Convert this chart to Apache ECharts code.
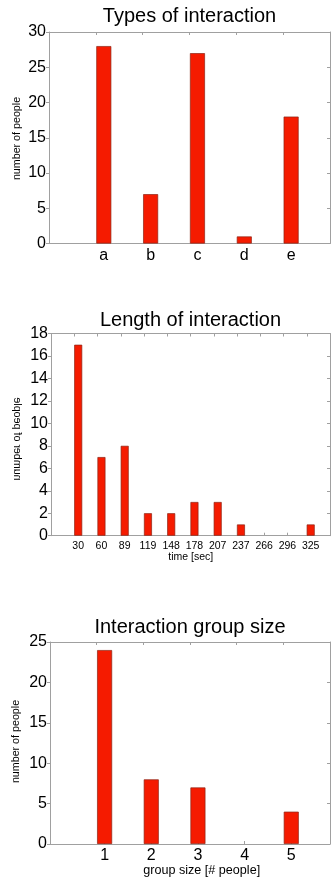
<!DOCTYPE html>
<html>
<head>
<meta charset="utf-8">
<script src="https://cdn.jsdelivr.net/npm/echarts@6/dist/echarts.min.js"></script>
<style>
html,body{margin:0;padding:0;background:#fff;}
#c{width:331px;height:880px;}
</style>
</head>
<body>
<div id="c"></div>
<script>
// ---- data ----
const typeCategories = ['a', 'b', 'c', 'd', 'e'];
const typeValues = [28, 7, 27, 1, 18];
const typeYTicks = { min: 0, max: 30, interval: 5 };

const lengthCategories = ['30', '60', '89', '119', '148', '178', '207', '237', '266', '296', '325'];
const lengthValues = [17, 7, 8, 2, 2, 3, 3, 1, 0, 0, 1];
const lengthYTicks = { min: 0, max: 18, interval: 2 };

const groupCategories = ['1', '2', '3', '4', '5'];
const groupValues = [24, 8, 7, 0, 4];
const groupYTicks = { min: 0, max: 25, interval: 5 };

const titles = ['Types of interaction', 'Length of interaction', 'Interaction group size'];
const yNames = ['number of people', 'number of people', 'number of people'];
const xNames = ['', 'time [sec]', 'group size [# people]'];

// ---- styling ----
const FONT = "'Liberation Sans', Arial, Helvetica, sans-serif";
const AXIS = '#a0a0a0';
const BAR = '#f51b00';
const BAR_BORDER = '#8c2414';

const panels = [
  { cats: typeCategories, vals: typeValues, y: typeYTicks, grid: { left: 49, right: 1, top: 32, height: 211.5 }, barWidth: 15, xFont: 16, xMargin: 4 },
  { cats: lengthCategories, vals: lengthValues, y: lengthYTicks, grid: { left: 51, right: 1, top: 333.5, height: 202.2 }, barWidth: 8, xFont: 10.5, xMargin: 5 },
  { cats: groupCategories, vals: groupValues, y: groupYTicks, grid: { left: 50, right: 1, top: 642, height: 202 }, barWidth: 15, xFont: 16, xMargin: 4 }
];

const grids = [], xAxes = [], yAxes = [], series = [];
panels.forEach((p, g) => {
  const n = p.cats.length;
  const pos = p.cats.map((c, i) => i + 1);
  grids.push(Object.assign({}, p.grid));
  xAxes.push({
    type: 'value', gridIndex: g, position: 'bottom', min: -0.17, max: n + 0.83,
    axisLine: { show: true, onZero: false, lineStyle: { color: AXIS, width: 1 } },
    axisTick: { show: true, inside: true, length: 3, customValues: pos, lineStyle: { color: AXIS } },
    axisLabel: { show: true, customValues: pos, formatter: v => p.cats[Math.round(v) - 1],
      fontSize: p.xFont, fontFamily: FONT, color: '#000', margin: p.xMargin },
    splitLine: { show: false }
  });
  xAxes.push({
    type: 'value', gridIndex: g, position: 'top', min: 0, max: n + 1, interval: 1,
    axisLine: { show: true, onZero: false, lineStyle: { color: AXIS, width: 1 } },
    axisTick: { show: true, inside: true, length: 3, lineStyle: { color: AXIS } },
    axisLabel: { show: false }, splitLine: { show: false }
  });
  yAxes.push({
    type: 'value', gridIndex: g, position: 'left', min: p.y.min, max: p.y.max, interval: p.y.interval,
    axisLine: { show: true, onZero: false, lineStyle: { color: AXIS, width: 1 } },
    axisTick: { show: true, inside: false, length: 3, lineStyle: { color: AXIS } },
    axisLabel: { show: true, fontSize: 16, fontFamily: FONT, color: '#000', margin: 3 },
    splitLine: { show: false }
  });
  yAxes.push({
    type: 'value', gridIndex: g, position: 'right', min: p.y.min, max: p.y.max, interval: p.y.interval,
    axisLine: { show: true, onZero: false, lineStyle: { color: AXIS, width: 1 } },
    axisTick: { show: true, inside: true, length: 3, lineStyle: { color: AXIS } },
    axisLabel: { show: false }, splitLine: { show: false }
  });
  series.push({
    type: 'bar', xAxisIndex: 2 * g, yAxisIndex: 2 * g, barWidth: p.barWidth,
    data: p.vals.map((v, i) => ({ value: [pos[i], v], itemStyle: v === 0 ? { borderWidth: 0, opacity: 0 } : {} })),
    itemStyle: { color: BAR, borderColor: BAR_BORDER, borderWidth: 0.7 },
    silent: true, animation: false
  });
});

const titlePos = [[189.5, 16.5], [190.5, 320], [190, 627]];
const yNamePos = [[17, 138.5], [17, 439], [16.5, 741.5]];
const xNamePos = [null, [190.8, 557.5], [201.7, 870.5]];

const graphics = [];
titles.forEach((t, i) => graphics.push({ type: 'text', x: titlePos[i][0], y: titlePos[i][1], silent: true,
  style: { text: t, fontSize: 20, fontFamily: FONT, fill: '#000', align: 'center', verticalAlign: 'middle' } }));
yNames.forEach((t, i) => graphics.push({ type: 'text', x: yNamePos[i][0], y: yNamePos[i][1], rotation: Math.PI / 2,
  scaleY: i === 1 ? -1 : 1, silent: true,
  style: { text: t, fontSize: 10.7, fontFamily: FONT, fill: '#000', align: 'center', verticalAlign: 'middle' } }));
xNames.forEach((t, i) => { if (t) graphics.push({ type: 'text', x: xNamePos[i][0], y: xNamePos[i][1], silent: true,
  style: { text: t, fontSize: i === 1 ? 10.5 : 12.6, fontFamily: FONT, fill: '#000', align: 'center', verticalAlign: 'middle' } }); });

const chart = echarts.init(document.getElementById('c'), null, { renderer: 'canvas' });
chart.setOption({
  animation: false,
  backgroundColor: '#fff',
  grid: grids, xAxis: xAxes, yAxis: yAxes, series: series,
  graphic: graphics
});
</script>
</body>
</html>
